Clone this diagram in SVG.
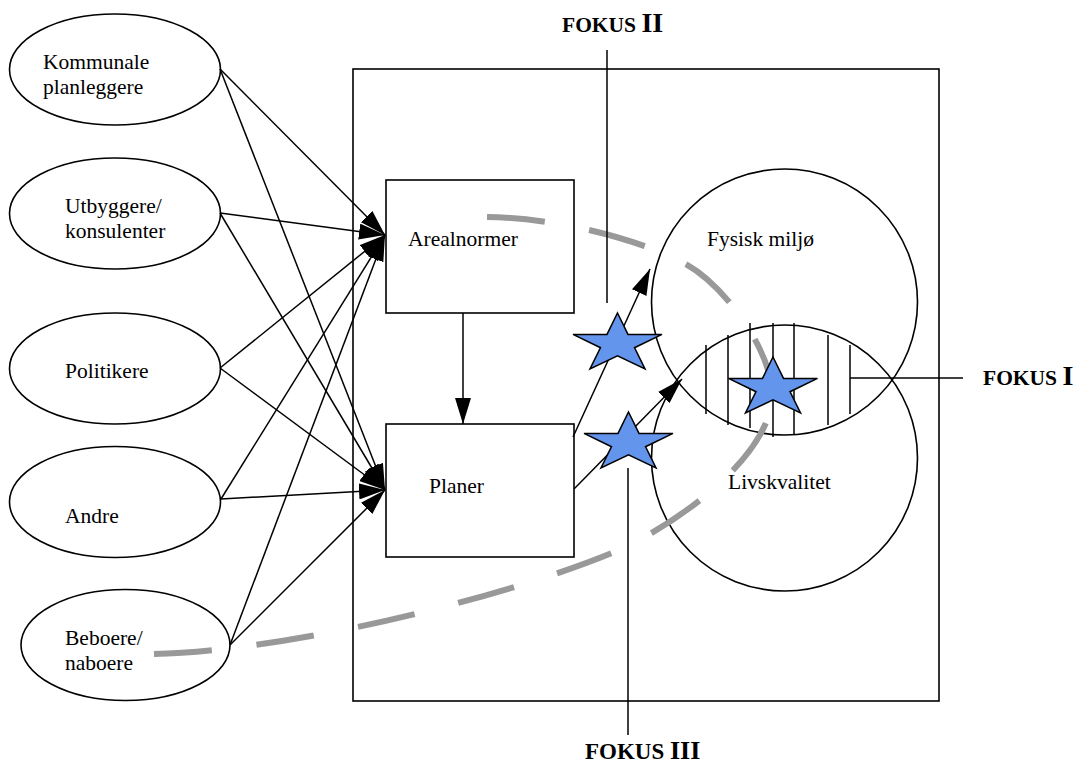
<svg xmlns="http://www.w3.org/2000/svg" width="1077" height="767" viewBox="0 0 1077 767">
<style>
.shape{fill:none;stroke:#000;stroke-width:1.6}
.ln{fill:none;stroke:#000;stroke-width:1.5}
.t{font-family:"Liberation Serif","Times New Roman",serif;font-size:21.5px;fill:#000}
.fk{font-family:"Liberation Serif","Times New Roman",serif;font-weight:bold;fill:#000}
.star{fill:#6495ED;stroke:#000;stroke-width:1.5}
.dash{fill:none;stroke:#999;stroke-width:6;stroke-dasharray:58 45}
</style>
<defs>
<marker id="ah" markerUnits="userSpaceOnUse" markerWidth="26" markerHeight="16" viewBox="0 0 26 16" refX="26" refY="8" orient="auto">
<path d="M0,0 L26,8 L0,16 Z" fill="#000"/>
</marker>
<path id="starshape" d="M0,-31 L10.5,-9.6 L44.5,-9.6 L17,3.7 L27.5,25 L0,11.8 L-27.5,25 L-17,3.7 L-44.5,-9.6 L-10.5,-9.6 Z"/>
</defs>
<rect width="1077" height="767" fill="#fff"/>
<g id="frame"><rect class="shape" x="353" y="69" width="586" height="632"/></g>
<g id="kommunale"><ellipse class="shape" cx="115" cy="69.5" rx="105.5" ry="55.5"/><text class="t" x="43" y="69">Kommunale</text><text class="t" x="43" y="94">planleggere</text></g>
<g id="utbyggere"><ellipse class="shape" cx="115" cy="213.5" rx="105.5" ry="55.5"/><text class="t" x="65" y="213">Utbyggere/</text><text class="t" x="65" y="238">konsulenter</text></g>
<g id="politikere"><ellipse class="shape" cx="115" cy="368.5" rx="105.5" ry="55.5"/><text class="t" x="65" y="378">Politikere</text></g>
<g id="andre"><ellipse class="shape" cx="115" cy="502" rx="105.5" ry="55.5"/><text class="t" x="65" y="523">Andre</text></g>
<g id="beboere"><ellipse class="shape" cx="125.5" cy="645" rx="104.5" ry="55.5"/><text class="t" x="65" y="645">Beboere/</text><text class="t" x="65" y="670">naboere</text></g>
<g id="arealnormer"><rect class="shape" x="386" y="180" width="188" height="133"/><text class="t" x="408" y="246">Arealnormer</text></g>
<g id="planer"><rect class="shape" x="386" y="424" width="188" height="133"/><text class="t" x="429" y="493">Planer</text></g>
<g id="fysisk"><circle class="shape" cx="784.5" cy="302" r="133"/><text class="t" x="707" y="246">Fysisk miljø</text></g>
<g id="livskvalitet"><circle class="shape" cx="784.5" cy="458" r="133"/><text class="t" x="728" y="489">Livskvalitet</text></g>
<g id="hatch">
<line class="ln" x1="706" y1="345" x2="706" y2="414"/>
<line class="ln" x1="728" y1="335" x2="728" y2="425"/>
<line class="ln" x1="750" y1="323" x2="750" y2="428"/>
<line class="ln" x1="773" y1="323" x2="773" y2="437"/>
<line class="ln" x1="794" y1="323" x2="794" y2="435"/>
<line class="ln" x1="828" y1="335" x2="828" y2="425"/>
<line class="ln" x1="850" y1="345" x2="850" y2="414"/>
</g>
<g id="boundary">
<path class="dash" d="M487,217 C560,218 640,240 684,263 C723.6,283.7 772,350 772,395"/>
<path class="dash" d="M154,654 C300,650 513,594 612,553 C678,525 772,455 772,395"/>
</g>
<g id="connectors">
<line class="ln" x1="220" y1="69" x2="385" y2="235" marker-end="url(#ah)"/>
<line class="ln" x1="220" y1="69" x2="385" y2="490" marker-end="url(#ah)"/>
<line class="ln" x1="220" y1="213" x2="385" y2="235" marker-end="url(#ah)"/>
<line class="ln" x1="220" y1="213" x2="385" y2="490" marker-end="url(#ah)"/>
<line class="ln" x1="220" y1="368" x2="385" y2="235" marker-end="url(#ah)"/>
<line class="ln" x1="220" y1="368" x2="385" y2="490" marker-end="url(#ah)"/>
<line class="ln" x1="221" y1="499" x2="385" y2="235" marker-end="url(#ah)"/>
<line class="ln" x1="221" y1="499" x2="385" y2="490" marker-end="url(#ah)"/>
<line class="ln" x1="230" y1="645" x2="385" y2="235" marker-end="url(#ah)"/>
<line class="ln" x1="230" y1="645" x2="385" y2="490" marker-end="url(#ah)"/>
<line class="ln" x1="463" y1="313" x2="463" y2="424" marker-end="url(#ah)"/>
<line class="ln" x1="573" y1="437" x2="650" y2="269" marker-end="url(#ah)"/>
<line class="ln" x1="574" y1="489" x2="682" y2="379" marker-end="url(#ah)"/>
</g>
<g id="focus-lines">
<line class="ln" x1="607" y1="50" x2="607" y2="303"/>
<line class="ln" x1="628" y1="468" x2="628" y2="735"/>
<line class="ln" x1="850" y1="378" x2="963" y2="378"/>
</g>
<g id="stars">
<use href="#starshape" class="star" x="617.5" y="344"/>
<use href="#starshape" class="star" x="628.5" y="443"/>
<use href="#starshape" class="star" x="773" y="388"/>
</g>
<g id="fokus2"><text class="fk" x="562" y="32"><tspan font-size="21.5">FOKUS </tspan><tspan font-size="28">II</tspan></text></g>
<g id="fokus1"><text class="fk" x="983" y="385"><tspan font-size="21.5">FOKUS </tspan><tspan font-size="28">I</tspan></text></g>
<g id="fokus3"><text class="fk" x="585" y="759"><tspan font-size="23">FOKUS </tspan><tspan font-size="26">III</tspan></text></g>
</svg>
